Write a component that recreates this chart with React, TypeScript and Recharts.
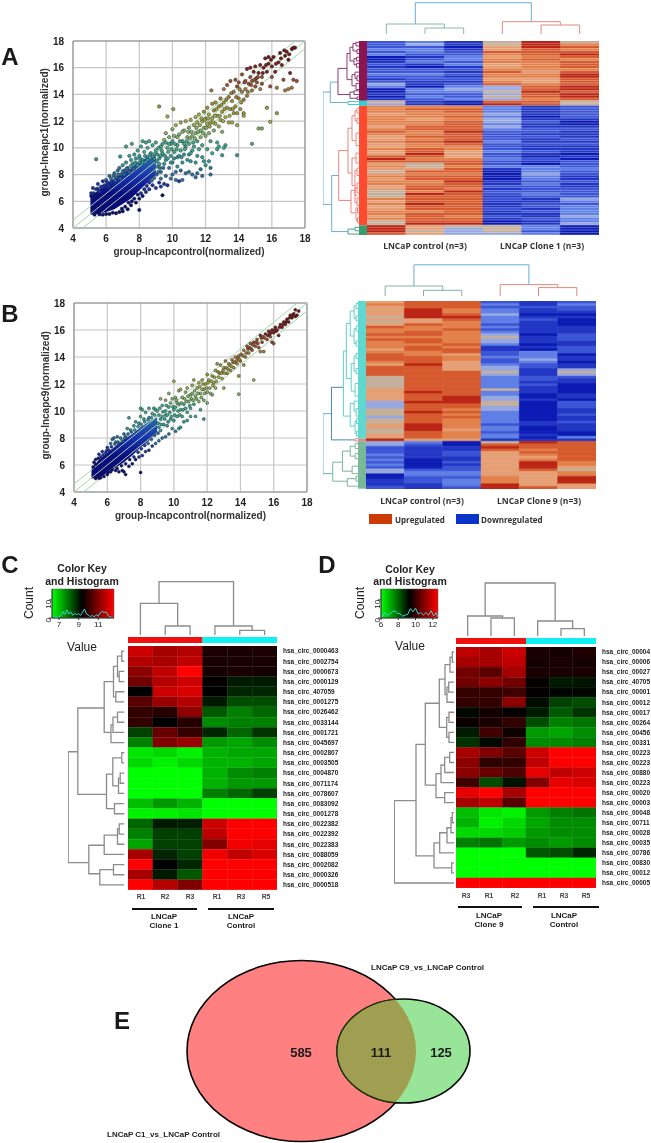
import React from 'react';
import {
  Area,
  Bar,
  BarChart,
  CartesianGrid,
  Cell,
  ComposedChart,
  Line,
  ReferenceArea,
  ReferenceLine,
  Scatter,
  ScatterChart,
  XAxis,
  YAxis,
} from 'recharts';

// ---- scatter panels: values, [control, clone]
const scatterA = [
  [5.1,6.6],[5.2,7],[5.4,6.9],[5.4,9.15],[5.5,7.3],[5.7,7.1],[5.8,7.5],[6,7.6],[6.1,7.3],[6.2,7.9],[6.3,7.7],[6.5,8.1],[6.6,7.8],[6.7,8.3],[6.8,8.5],[6.85,9.35],[6.9,8],[7,8.7],[7.1,8.3],[7.2,8.9],[7.3,8.5],[7.2,10.1],[7.4,9.4],[7.5,9.1],[7.55,10.3],[7.6,8.8],[7.7,9.5],[7.8,9.2],[7.9,9.8],[8,8.9],[8,9.4],[8.1,10.1],[8.2,9.1],[8.3,9.7],[8.2,10.5],[8.4,10.4],[8.5,9.3],[8.5,10],[8.6,10.5],[8.7,9.6],[8.8,10.2],[8.9,9.2],[9,10.4],[9,9.8],
  [5.8,5],[6.2,5.05],[6.6,5.1],[7,5.25],[7.3,5.4],[7.5,5.7],[7.8,5.9],[8,5.35],[8,6.2],[8.2,6.4],[8.4,6.7],[8.6,6.9],[8.8,7.2],[9,7],[9.2,7.4],[9.3,7.7],[9.4,6.45],[9.3,7.1],[9.5,7.3],[9.6,7.9],[9.7,7.2],[9.9,7.7],[10,8],[10.2,7.6],[10.4,7.5],[10.6,7.6],[10.8,8.1],[10.5,8.3],[10.3,8.6],[11,8.2],[11.2,8],[11.5,8.1],[11.4,7.8],[11.8,7.9],[12.3,8],[12.3,8.5],[12,8.7],[11.7,8.4],[11.4,8.9],[11.9,9],[12.2,9],[11.5,9.4],[11.1,9],[11,9.5],[12.1,9.9],[11.8,9.3],[12.4,9.6],[12.7,9.9],[13,9.45],[13.1,10],[13.2,10.2],[12.8,10.1],[13.9,9.45],[14.8,10.3],
  [9.1,8.6],[9.2,9.2],[9.3,10.1],[9.3,8.2],[9.4,9.6],[9.5,10.6],[9.5,8.8],[9.6,9.1],[9.6,11.1],[9.7,10],[9.8,8.5],[9.8,10.8],[9.9,9.4],[9.9,10.3],[10,11.4],[10,8.9],[10.1,9.7],[10.1,10.9],[10.2,8.2],[10.2,11.7],[10.3,10.2],[10.3,9.3],[10.4,11],[10.5,9.8],[10.5,11.9],[10.6,10.5],[10.6,8.9],[10.7,11.3],[10.7,9.5],[10.8,10.1],[10.8,12],[10.9,10.8],[10.9,9.1],[11,11.5],[11,10.3],[11.1,12.1],[11.2,9.8],[11.2,10.9],[11.3,11.7],[11.3,10.1],[11.4,12.3],[11.4,11.1],[11.5,10.5],[11.5,11.9],[11.6,9.9],[11.6,12.5],[11.7,11.3],[11.7,10.8],[11.8,12],[11.8,10.2],[11.9,12.7],[11.9,11.5],[12,12.2],[12,10.9],[12.1,11.8],[12.1,13],[12.2,11.1],[12.2,12.5],[12.3,10.5],[12.3,11.9],[12.35,14.3],[12.4,13.3],[12.4,12.2],[12.5,11.3],[12.5,12.8],[12.6,11.8],[12.6,13.4],[12.7,12.4],[12.7,10.4],[12.8,13.1],[12.8,11.6],[12.9,12.1],[12.9,13.7],[13,12.7],[13,11.2],[13.1,13.4],[13.1,14.4],[13.2,12.3],[13.3,13],[13.3,14.7],[13.4,11.9],[13.4,13.8],[13.5,12.9],[13.5,15],[13.6,13.5],[13.6,11.9],[13.7,14.2],[13.7,12.6],[13.8,13.1],[13.8,15.1],[13.9,14.6],[13.9,11.7],[13.9,12.6],[14,13.7],[14,14.9],[14.1,12.9],[14.2,14.2],[14.2,15.5],[14.3,13.6],[14.3,12.4],[14.3,12.6],[14.4,15],[14.4,14.4],[14.5,15.9],[14.5,13.9],[14.6,14.8],[14.7,15.3],[14.7,16],[14.8,14.3],[14.8,15],[14.9,15.7],[15,14.6],[15,16.1],[15.05,15.2],[15.1,14.9],[15.2,15.6],[15.3,14.4],[15.3,16.2],[15.4,15.3],[15.4,14.8],[15.5,16],[15.6,16.7],[15.7,13],[15.7,15.7],[15.8,16.3],[15.8,16.8],[15.9,11.95],[15.9,14.6],[16,16.1],[16,15.3],[16.1,16.8],[16.2,15.7],[16.3,12.6],[16.3,14.5],[16.4,16.4],[16.5,17.1],[16.6,16.2],[16.7,15.1],[16.8,16.9],[16.8,14.3],[16.9,17.2],[17,16.6],[17,14.4],[17.1,15.6],[17.2,14.5],[17.2,17.4],[17.3,17.5],[17.3,15.1],[17.5,15],[17.4,17.5],
  [15.2,11.45],[15.4,11.45],[9.2,13.1],[9.7,12.35],[10.05,12.9],
];
const scatterAEdge = [
  [5.1,6.4],[5.25,6.6],[5.35,6.5],[5.5,6.95],[5.6,6.75],[5.75,7.05],[5.9,7.2],[6.05,7.45],[6.15,7.1],[6.3,7.45],[6.45,7.9],[6.55,7.55],[6.75,8],[6.85,7.7],[7,8.25],[7.1,8],[7.25,8.45],[7.4,8.2],[7.5,8.65],[7.65,8.4],[7.75,8.9],[7.9,8.7],[8.05,9.2],[8.2,8.9],[8.35,9.4],[8.5,9.1],[8.65,9.5],[8.8,9.35],[8.95,9.55],
  [5.3,5],[5.6,5.02],[6,5.05],[6.4,5.15],[6.8,5.2],[6.95,5.45],[7.15,5.6],[7.35,5.9],[7.55,6],[7.7,6.2],[7.9,6.5],[8.1,6.6],[8.3,6.9],[8.45,7.15],[8.6,7.4],[8.75,7.55],[8.9,7.75],[9.05,8],[9.15,8.2],[9.25,8.5],
  [9.05,9],[9.1,9.5],[9.15,10],[9.2,8.8],[9.3,9.4],[9.35,9.8],[9.4,10.3],[9.45,8.5],[9.55,9.4],[9.6,10.4],[9.7,9.2],[9.75,9.7],[9.8,10.3],[9.9,8.9],[9.95,9.9],[10,10.5],[10.1,9.2],[10.15,10.3],[10.25,9.9],[10.3,10.8],[10.4,9.4],[10.45,10.5],[10.55,9.3],[10.6,11.2],[10.7,10.3],[10.75,9.9],[10.85,10.5],[10.95,11.2],[11.05,10.7],[11.1,9.6],[11.15,11.2],[11.25,10.4],[11.35,10.7],[11.45,11.5],[11.55,11.2],[11.65,11.7],[11.75,12.2],[11.85,11.1],[11.95,12.1],[12.05,11.5],[12.15,12.2],[12.25,11.6],[12.45,11.9],[12.55,12.4],[12.65,12.9],[12.85,12.4],[12.95,13.2],[13.05,12],[13.15,12.9],[13.25,13.6],[13.45,12.4],[13.55,14.1],[13.65,12.9],[13.85,13.8],[14.05,14.4],[14.15,13.4],[14.35,14.9],[14.55,14.2],[14.75,14.7],[14.95,15.1],[15.15,15.3],[15.45,15.6],[15.65,16.2],[15.95,16.6],[16.25,16.3],[16.55,16.7],[16.75,17.3],[17.05,17],
];

const scatterB = [
  [5.2,6.2],[5.3,6.4],[5.5,6.8],[5.7,7],[5.9,6.9],[6,7.3],[6.2,7.6],[6.3,7.9],[6.4,8],[6.5,7.7],[6.6,8.1],[6.7,7.5],[6.9,7.8],[7,8.3],[7.1,8.1],[7.2,8.7],[7.3,9.5],[7.4,8.6],[7.6,8.9],[7.7,9.2],[7.9,9.1],[8,9.6],[8,10.2],[8.2,9.4],[8.1,10.1],[8.3,9.9],[8.5,10.2],[8.5,9.5],[8.8,10.2],[8.7,9.8],[8.9,10.1],[9,10],
  [5.6,5.05],[6,5.3],[6.2,5.5],[6.5,5.6],[6.7,5.5],[6.9,5.6],[7,5.5],[7.1,5.3],[7.3,5.9],[7.5,6.1],[7.7,6.4],[7.9,6.6],[8,5.45],[8.1,6.7],[8.3,7],[8.5,7.1],[8.7,7.4],[8.9,7.6],[9.1,7.8],[9.3,8],[9.5,8.1],[9.7,8.3],[9.9,8.7],[10.1,8.5],[10.3,8.7],[10.4,8.8],[10.6,9.2],[10.8,9.3],[11,9.6],[11.3,9.6],[11.6,10.1],[11.8,9.4],[12,10.6],[12.3,11.2],
  [9.1,8.8],[9.2,9.4],[9.2,10.9],[9.3,10.4],[9.4,9],[9.5,9.7],[9.5,10.8],[9.6,8.9],[9.7,10.3],[9.7,11.3],[9.8,9.4],[9.9,10.9],[10,9.3],[10,10.1],[10,12.2],[10.1,11],[10.2,9.6],[10.2,10.6],[10.3,11.5],[10.4,10.1],[10.4,11.6],[10.5,9.6],[10.5,11],[10.6,10.5],[10.7,11.4],[10.8,9.9],[10.8,11.7],[10.9,10.7],[11,11.2],[11,10.2],[11.1,11.9],[11.2,10.5],[11.2,12.3],[11.3,11.1],[11.4,11.7],[11.5,10.7],[11.5,12.1],[11.6,11.3],[11.7,12.3],[11.8,11.6],[11.8,10.8],[11.9,12],[12,11.4],[12,12.7],[12.1,12.3],[12.2,11.3],[12.3,12.6],[12.4,12.1],[12.5,13],[12.5,11.7],[12.6,13.5],[12.7,12.5],[12.8,13.4],[12.9,12.4],[13,13.2],[13,11.7],[13.1,13.7],[13.2,12.8],[13.3,13.5],[13.4,13],[13.5,13.8],[13.6,13.2],[13.7,14],[13.8,13.5],[13.9,14.1],[13.9,12.6],[13.9,11.25],[14,13.7],[14.2,14.5],[14.2,13.4],[14.3,14],[14.4,14.8],[14.5,14.3],[14.6,15],[14.7,14.5],[14.8,12.3],[14.8,15.1],[14.9,14.8],[15,15.3],[15.1,14.7],[15.2,14.4],[15.2,15.6],[15.3,15.1],[15.4,14.4],[15.5,15.7],[15.6,15.3],[15.7,15.9],[15.8,15.5],[15.9,15.1],[15.9,16],[16,15],[16,15.8],[16.1,16.2],[16.2,16],[16.3,15.6],[16.4,16.4],[16.5,16.2],[16.6,16.6],[16.7,16.4],[16.8,16.8],[16.9,16.6],[17,17.1],[17.1,16.9],[17.2,17.2],[17.3,17.5],[17.3,17],[17.5,17.4],[17.4,17.1],
];
const scatterBEdge = [
  [5.15,5.85],[5.3,6.05],[5.45,6.5],[5.6,6.6],[5.75,6.75],[5.95,7.05],[6.1,7.1],[6.25,7.35],[6.45,7.55],[6.65,7.7],[6.8,8],[7.05,8],[7.25,8.3],[7.45,8.45],[7.65,8.6],[7.85,8.85],[8.05,9],[8.25,9.2],[8.45,9.35],[8.65,9.5],[8.85,9.7],
  [5.3,5],[5.5,5.02],[5.8,5.15],[6.05,5.45],[6.3,5.65],[6.6,5.75],[6.85,5.95],[7.1,6.1],[7.35,6.4],[7.6,6.6],[7.85,6.95],[8.05,7.2],[8.25,7.45],[8.45,7.6],[8.65,7.9],[8.85,8.2],[9.05,8.35],[9.2,8.55],
  [9.05,9.1],[9.1,9.7],[9.15,10.2],[9.25,9],[9.3,9.6],[9.35,9.95],[9.45,9.4],[9.5,10],[9.55,10.4],[9.6,9.7],[9.65,9.2],[9.75,9.9],[9.8,10.6],[9.85,9.6],[9.95,10.3],[10.05,9.7],[10.1,10.3],[10.15,10.8],[10.25,10],[10.3,10.5],[10.35,9.7],[10.45,10.6],[10.55,10.1],[10.65,10.9],[10.7,10.2],[10.75,10.7],[10.85,11.1],[10.95,10.4],[11.05,10.9],[11.1,11.3],[11.15,10.8],[11.25,11.5],[11.35,10.9],[11.45,11.3],[11.55,11.8],[11.65,11],[11.7,11.6],[11.75,12],[11.85,11.3],[11.95,11.7],[12.05,12.1],[12.15,11.7],[12.25,12.2],[12.35,11.9],[12.45,12.5],[12.55,12.2],[12.65,12.9],[12.75,12.8],[12.85,12.8],[12.95,13],[13.05,12.8],[13.15,13.2],[13.25,13.1],[13.35,13.4],[13.45,13.3],[13.55,13.6],[13.65,13.6],[13.75,13.7],[13.85,13.9],[13.95,13.8],[14.05,14.2],[14.15,14.1],[14.35,14.3],[14.45,14.6],[14.55,14.7],[14.65,14.6],[14.75,14.9],[14.95,15.1],[15.05,15],[15.25,15.4],[15.35,15.5],[15.45,15.4],[15.65,15.6],[15.75,15.7],[15.85,15.8],[16.05,16],[16.15,15.9],[16.35,16.2],[16.55,16.4],[16.75,16.6],[16.95,16.9],[17.15,17.1],
];

// dense core of each cloud, drawn as a low/high envelope
const coreA = [
  { x: 5.05, core: [5, 6.3] }, { x: 5.5, core: [5.05, 6.8] }, { x: 6, core: [5.2, 7.3] }, { x: 6.5, core: [5.4, 7.7] },
  { x: 7, core: [5.8, 8.1] }, { x: 7.5, core: [6.2, 8.5] }, { x: 8, core: [6.8, 9] }, { x: 8.5, core: [7.4, 9.3] }, { x: 9, core: [8, 9.4] },
];
const coreB = [
  { x: 5.05, core: [5, 5.7] }, { x: 5.5, core: [5.02, 6.4] }, { x: 6, core: [5.4, 6.9] }, { x: 6.5, core: [5.8, 7.4] },
  { x: 7, core: [6.2, 7.9] }, { x: 7.5, core: [6.7, 8.3] }, { x: 8, core: [7.3, 8.8] }, { x: 8.5, core: [7.8, 9.2] }, { x: 9, core: [8.4, 9.6] },
];

const axisTicks = [4, 6, 8, 10, 12, 14, 16, 18];
const foldBand = 0.58;

// ---- blue/orange heatmaps, one list per sample, level 0 (down) to 9 (up)
const aCtrl1 = [2,2,2,3,2,3,0,0,1,2,1,2,2,3,2,1,2,4,3,0,0,1,0,1,5,4, 7,7,7,6,7,7,7,7,6,7,8,7,6,6,7,6,6,7,6,6,8,9,8,6,7,6,5,6,7,6,7,7,6,6,5,5,5,7,6,7,6,6,7,7,6,7,5,5, 9,9,9,8];
const aCtrl2 = [3,4,2,3,3,2,1,2,3,1,0,2,2,3,2,2,1,1,0,3,3,2,3,2,1,1, 7,8,7,7,7,6,7,7,8,8,7,7,8,7,8,7,7,8,8,9,8,7,8,5,5,6,8,7,8,8,7,7,8,8,7,9,8,8,8,9,8,8,7,8,8,8,8,9, 6,6,5,6];
const aCtrl3 = [1,1,0,1,2,2,3,3,2,3,1,2,1,2,1,2,1,2,3,4,3,2,2,3,0,0, 7,8,8,7,8,7,8,8,8,8,9,8,8,8,9,8,7,7,6,6,6,7,8,8,7,8,8,7,8,8,9,8,8,7,9,8,8,8,8,8,8,8,8,8,7,8,8,9, 5,4,4,4];
const aClone1 = [5,5,6,6,8,7,6,7,7,6,6,7,8,7,7,6,7,8,4,4,5,4,5,4,8,9, 3,3,3,4,3,4,4,3,4,3,2,2,2,2,3,2,2,2,3,2,2,3,2,2,3,1,0,0,0,0,1,1,2,1,2,2,1,2,1,1,1,2,1,1,2,1,0,0, 5,5,5,4];
const aClone2 = [9,9,9,8,8,8,7,8,7,7,7,7,6,7,7,6,6,7,8,8,9,8,8,7,8,8, 1,1,1,1,0,1,2,1,1,2,2,1,2,1,1,2,1,1,2,1,0,2,1,0,3,3,3,4,3,3,2,3,2,2,2,3,2,1,1,2,2,1,2,1,1,2,1,1, 3,3,2,3];
const aClone3 = [5,7,8,7,8,9,8,7,8,8,8,7,8,9,9,8,8,8,9,9,8,9,9,8,5,5, 2,2,2,2,2,1,0,0,1,2,1,1,1,2,1,2,1,1,1,0,1,0,2,2,2,3,2,2,1,1,2,1,1,2,2,2,2,4,3,2,3,3,3,3,4,3,3,4, 0,0,0,0];
const aClusters = [24, 2, 48, 4];

const bCtrl1 = [6,7,6,6,6,6,5,6,5,6,8,7,7,8,7,8,7,7,7,6,7,8,8,8,7,6,8,8,8,8,5,5,5,5,5,6,6,6,6,6,4,4,4,5,5,5,4,5,5,6,6,5,5,6,6, 9, 4,4,2,2,2,3,2,3,2,3,2,4,4,0,0,1,1,1,2];
const bCtrl2 = [8,8,8,9,9,9,9,6,6,8,7,7,8,8,7,8,8,7,8,8,7,7,8,8,8,9,8,8,8,8,8,8,8,8,8,8,9,8,8,8,9,8,8,8,9,8,8,8,8,9,9,9,8,8,8, 6, 3,2,1,1,1,1,1,0,0,0,0,2,3,3,2,2,2,1,1];
const bCtrl3 = [8,8,8,7,7,8,9,8,7,7,7,8,7,7,7,7,7,8,7,8,8,6,7,7,6,6,6,6,8,8,8,8,8,8,8,8,8,8,9,9,9,8,8,7,8,7,8,7,7,7,7,6,7,7,7, 6, 0,0,1,1,2,2,1,1,2,1,2,2,3,3,2,3,3,3,2];
const bClone1 = [2,3,2,3,3,4,3,3,3,2,3,2,3,4,5,4,4,3,1,1,2,2,3,2,2,3,4,4,5,4,3,3,3,3,3,5,3,3,4,4,5,5,4,4,3,3,3,3,3,2,3,3,2,3,3, 1, 5,8,9,8,6,6,6,6,6,6,6,6,6,6,7,7,7,9,9];
const bClone2 = [1,1,2,1,1,0,1,2,1,1,1,1,1,0,1,1,1,0,1,0,3,3,3,4,3,2,2,1,1,1,2,2,1,2,1,1,1,0,0,1,0,0,0,0,0,0,0,0,1,1,0,0,0,1,0, 1, 9,8,8,7,8,7,6,7,9,9,9,8,6,6,6,6,6,6,8];
const bClone3 = [2,3,2,2,1,0,1,0,0,0,1,1,1,2,2,2,1,1,2,2,2,0,1,1,0,1,1,4,5,4,2,1,1,0,0,0,0,1,1,0,2,2,2,1,1,2,1,1,2,1,1,1,0,0,3, 1, 8,8,8,8,8,8,8,8,7,7,6,5,7,7,9,9,9,6,6];
const bClusters = [55, 1, 19];

const levelColors = ['#0c1cb4', '#2337c4', '#3c56d6', '#6080e6', '#98a8e0', '#c6b09c', '#e6a076', '#e2824c', '#d65c30', '#bc2616'];

// ---- green/red heatmaps, -10 (green) to 10 (red)
const circC = ['0000463','0002754','0000673','0000129','407059','0001275','0026462','0033144','0001721','0045697','0002807','0003505','0004870','0071174','0078607','0083092','0001278','0022382','0022392','0022383','0088059','0002082','0000326','0000518'];
const heatC = [
  [8,6.5,7,1,1,1],[7,6.5,7.5,1,1,1],[5.5,7.5,10,0.8,1,0.8],[4.5,7,8,0.2,-1,-1],[0,8,8.5,0,-1.5,-1.5],[3.5,6,7,-1,-3,-3],
  [2,1.5,5.5,-3.5,-5,-4],[2,0,1.5,-5.5,-5,-5],[-2.5,4,2,-1.5,-4,-2],[-5,5,6,-6,-6.5,-5.5],[-9,-8.5,-9.5,-7,-6.5,-6.5],[-8.5,-9.5,-8.5,-7,-7,-6.5],
  [-10,-10,-10,-7,-5.5,-5],[-10,-10,-10,-7,-6,-6],[-10,-10,-10,-5,-4,-2.5],[-7.5,-6,-7,-10,-10,-10],[-9.5,-9.5,-9,-10,-10,-10],[-4,-1,-1.2,8,10,10],
  [-5,-2.5,-2.5,7.5,10,10],[-6.5,-2.5,-2.5,5,9.5,9],[6.5,-1.5,-2.5,9.5,7.5,8.5],[10,0,-1.5,10,10,10],[6.5,-1,-3.5,10,10,10],[10,7,5,10,10,10],
];
const circD = ['00004','00006','00027','40705','00001','00012','00017','00264','00456','00331','00223','00223','00880','00223','00020','00003','00048','00711','00028','00035','00786','00830','00012','00005'];
const heatD = [
  [7.5,6.5,8,1,0.8,1.2],[6.5,6.5,7.5,0.8,1,0.8],[4.5,3.5,6.5,1,1,1],[4.5,5.5,4.5,0.2,-1,-0.8],[2,2,2.5,0.2,-0.2,-0.2],[2,2,5.5,-0.5,-2.5,-3],
  [-0.3,0.8,0.2,-1,-3.5,-2],[0.5,1,2,-3,-5,-4.5],[-1,2.5,0.5,-6,-6.5,-5.5],[-2,-0.3,1.8,-5.5,-5.5,-5],[6.5,5,3.5,8,10,10],[5.5,1.8,2,7.5,10,10],
  [5.5,4,3,9,7.5,8],[2.5,-3,-0.7,5,9,8.5],[9,10,6.5,10,10,10],[6.5,7.5,3.5,10,10,10],[-7.5,-9,-9.5,-6,-5,-4.5],[-7,-9.5,-8.5,-6.5,-5.5,-5.5],
  [-8.5,-8.5,-8,-6,-5.5,-5.5],[-5,-4.5,-6,-5.5,-6,-5.5],[-10,-10,-10,-3.5,-3,-1.5],[-10,-10,-10,-10,-10,-10],[-10,-10,-10,-10,-10,-10],[10,10,10,10,10,10],
];
const samplesC = ['R1', 'R2', 'R3', 'R1', 'R3', 'R5'];
const samplesD = ['R3', 'R1', 'R2', 'R1', 'R3', 'R5'];

// colour key histograms
const histC = [
  [6.4,0.3],[6.7,0.6],[7,0.4],[7.2,1.5],[7.4,3.5],[7.6,2],[7.8,4.5],[8,2.2],[8.2,3.4],[8.4,1.5],[8.6,2.6],[8.8,1.8],[9,2.4],[9.2,1.4],[9.4,3.2],[9.6,5],[9.8,2.2],[10,1.6],[10.2,0.8],[10.4,1.4],[10.6,0.6],[10.8,1.8],[11,1],[11.2,3],[11.4,3.6],[11.6,3],[11.8,3.4],[12,1.4],[12.2,0.6],[12.5,0.2],
];
const histD = [
  [6.1,0.3],[6.4,3],[6.7,1.6],[7,2],[7.3,3.6],[7.6,4],[7.9,2.6],[8.2,2.4],[8.5,1],[8.8,1.6],[9.1,2],[9.4,5.2],[9.7,3.4],[10,5.4],[10.3,2.2],[10.6,3],[10.9,1.6],[11.2,3],[11.5,1.6],[11.8,4],[12.1,1.2],[12.4,3],[12.6,0.4],
];

// ---- dendrograms: each merge is [height, pos a, child height a, pos b, child height b]
const colTreeA = [[31.3, 1.25, 10, 4.25, 12.3]];
const colTreeAL = [[10, 0.5, 0, 2, 6], [6, 1.5, 0, 2.5, 0]];
const colTreeAR = [[12.3, 3.5, 0, 5, 9], [9, 4.5, 0, 5.5, 0]];
const colTreeB = [[31.2, 1.25, 10, 4.25, 11.4]];
const colTreeBL = [[10, 0.5, 0, 2, 5.7], [5.7, 1.5, 0, 2.5, 0]];
const colTreeBR = [[11.4, 3.5, 0, 5, 8.4], [8.4, 4.5, 0, 5.5, 0]];
const colTreeC = [[53.3, 1.25, 31.7, 4.25, 9], [31.7, 0.5, 0, 2, 9], [9, 1.5, 0, 2.5, 0], [9, 3.5, 0, 5, 4.7], [4.7, 4.5, 0, 5.5, 0]];
const colTreeD = [[53, 1.25, 20, 4.25, 15], [20, 0.5, 0, 2, 18], [18, 1.5, 0, 2.5, 0], [15, 3.5, 0, 5, 7.4], [7.4, 4.5, 0, 5.5, 0]];

const rowTreeARoot = [[36, 20.5, 28.7, 65.6, 27.3], [28.7, 16.5, 21, 24.7, 11], [27.3, 54, 20.3, 76.5, 11]];
const rowTreeAPurple = [
  [21, 11, 12, 21.5, 9], [12, 5, 9, 15.5, 7], [9, 2.5, 6, 8, 5], [6, 1, 3, 4, 2], [3, 0.5, 0, 2, 0], [2, 3.5, 0, 5, 0],
  [5, 7, 2.5, 9.5, 2.5], [2.5, 6.5, 0, 8, 0], [2.5, 9, 0, 10.5, 0], [7, 13.5, 4, 18, 3], [4, 12.5, 0, 15, 2], [2, 14, 0, 16, 0],
  [3, 17, 0, 19.5, 0], [9, 20.5, 5, 23, 2], [5, 20, 0, 21.5, 0], [2, 22.5, 0, 23.5, 0],
];
const rowTreeACyan = [[11, 24.3, 0, 25.5, 0]];
const rowTreeARed = [
  [20.3, 44, 11, 64, 8], [11, 35, 7, 53, 7], [7, 30, 4, 40, 3], [4, 28, 2, 32, 2], [2, 27, 0, 29, 0], [2, 31, 0, 33, 0], [3, 37, 0, 42, 0],
  [7, 47, 3, 58, 4], [3, 45, 0, 49, 0], [4, 52, 2, 62, 2], [2, 51, 0, 54, 0], [2, 57, 0, 61, 0], [8, 60, 4, 69, 3], [4, 59, 1.5, 65, 2],
  [2, 63, 0, 66, 0], [3, 67, 1.5, 72, 1.5], [1.5, 67, 0, 69, 0], [1.5, 71, 0, 73, 0],
];
const rowTreeAGreen = [[11, 75.5, 4, 77.5, 0], [4, 74.8, 0, 76.2, 0]];

const rowTreeBRoot = [[36, 45, 27.3, 69, 26]];
const rowTreeBBlue = [[27.3, 34.5, 15, 55.5, 3]];
const rowTreeBTeal = [
  [15, 20, 12, 46, 8], [12, 9, 8, 31, 7], [8, 4, 4, 14, 4], [4, 2, 2, 7, 2], [2, 1, 0, 3, 0], [2, 6, 0, 8, 0], [4, 11, 2, 17, 2], [2, 10, 0, 12, 0], [2, 16, 0, 18, 0],
  [7, 25, 4, 36, 3], [4, 22, 2, 28, 2], [2, 21, 0, 23, 0], [2, 27, 0, 29, 0], [3, 33, 0, 38, 0],
  [8, 41, 4, 50, 3], [4, 40, 0, 44, 2], [2, 43, 0, 46, 0], [3, 48, 1.5, 53, 1.5], [1.5, 47, 0, 49, 0], [1.5, 52, 0, 54, 0],
];
const rowTreeBPink = [[3, 55, 0, 56, 0]];
const rowTreeBGreen = [
  [26, 64.4, 16, 72, 11], [16, 60, 8, 68, 6], [8, 58, 3, 62, 3], [3, 57, 0, 59, 0], [3, 61, 0, 63, 0], [6, 66, 0, 69, 0], [11, 71, 2, 74, 0], [2, 70, 0, 72, 0],
];

const rowTreeC = [
  [56.3, 10.4, 46.7, 21.3, 35.7], [46.7, 6.1, 20.3, 14.6, 18], [20.3, 3.5, 11, 8.5, 13.5], [11, 2, 7, 5, 8.7], [7, 1, 2.7, 3, 5.3], [2.7, 0.5, 0, 1.5, 0],
  [5.3, 2.5, 0, 3.5, 0], [8.7, 4.5, 0, 5.5, 0], [13.5, 7.75, 11.5, 9.5, 0], [11.5, 7, 7, 8.5, 0], [7, 6.5, 0, 7.5, 0], [18, 12.6, 11.7, 16, 10],
  [11.7, 11, 2.7, 13.75, 6], [2.7, 10.5, 0, 11.5, 0], [6, 13, 4.3, 14.5, 0], [4.3, 12.5, 0, 13.5, 0], [10, 15.5, 0, 16.5, 0], [35.7, 19.6, 20.3, 22.4, 24.7],
  [20.3, 18.6, 7, 20.5, 0], [7, 18, 5.3, 19.5, 0], [5.3, 17.5, 0, 18.5, 0], [24.7, 22, 11, 23.5, 0], [11, 21.5, 0, 22.5, 0],
];
const rowTreeD = [
  [59.7, 15.3, 38, 23.5, 0], [38, 9.7, 28.7, 20.8, 20], [28.7, 5.6, 14.7, 13.75, 18], [14.7, 3.2, 9, 8, 7.3], [9, 1.75, 4, 4.75, 7], [4, 1, 1.7, 2.5, 0], [1.7, 0.5, 0, 1.5, 0],
  [7, 4, 5.3, 5.5, 0], [5.3, 3.5, 0, 4.5, 0], [7.3, 7, 5, 9, 5], [5, 6.5, 0, 7.5, 0], [5, 8.5, 0, 9.5, 0], [18, 12.6, 13, 15, 9.3], [13, 11.75, 9.3, 13.5, 0],
  [9.3, 11, 4.3, 12.5, 0], [4.3, 10.5, 0, 11.5, 0], [9.3, 14.5, 0, 15.5, 0], [20, 19.5, 14.3, 22, 2.3], [14.3, 18.5, 7, 20.5, 0], [7, 18, 3, 19.5, 0],
  [3, 17, 1.7, 18.5, 0], [1.7, 16.5, 0, 17.5, 0], [2.3, 21.5, 0, 22.5, 0],
];

// ---- venn counts and circle extents
const vennCounts = [585, 111, 125];
const vennSets = [
  { x: 121.5, y: 96, rx: 114.5, ry: 90.5, fill: '#ff8080' },
  { x: 223.5, y: 96, rx: 66.5, ry: 52, fill: '#98e498' },
];

const FONT = 'Arial, "Liberation Sans", sans-serif';

function T({ x, y, size = 8, bold = true, color = '#1a1a1a', rot = 0, start = false, family = FONT, children }: any) {
  return (
    <div
      style={{
        position: 'absolute',
        left: x,
        top: y,
        fontFamily: family,
        fontSize: size,
        fontWeight: bold ? 700 : 400,
        color,
        whiteSpace: 'nowrap',
        lineHeight: 1,
        transform: `translate(${start ? '0' : '-50%'}, -50%) rotate(${rot}deg)`,
      }}
    >
      {children}
    </div>
  );
}

function Box({ left, top, children }: any) {
  return <div style={{ position: 'absolute', left, top }}>{children}</div>;
}

// y value sets the point colour, dark blue through green to dark red
const yStops: [number, string][] = [
  [6.5, '#0a0a7a'], [7.5, '#1a30b0'], [8.5, '#2a70a8'], [9.5, '#30a0a0'], [10.5, '#40b090'], [11.5, '#88b860'],
  [12.5, '#b0b040'], [13.5, '#a89a30'], [14.5, '#b07a30'], [15.5, '#a84a28'], [16.5, '#8a1a1a'],
];
const colorForY = (y: number) => {
  for (const [limit, color] of yStops) if (y <= limit) return color;
  return '#7a1010';
};

const Dot = (r: number) => (props: any) => (
  <circle cx={props.cx} cy={props.cy} r={r} fill={colorForY(props.payload.y)} stroke="#1c2a2a" strokeWidth={0.5} />
);

function ScatterPanel({ id, points, core, xName, yName, plotTop, plotLeft, plotWidth, plotHeight, dot }: any) {
  const data = points.map(([x, y]: number[]) => ({ x, y }));
  const diag = (off: number) => [
    { x: off < 0 ? 4 - off : 4, y: off > 0 ? 4 + off : 4 },
    { x: off > 0 ? 18 - off : 18, y: off < 0 ? 18 + off : 18 },
  ];
  return (
    <Box left={0} top={plotTop - 10}>
      <ComposedChart
        width={plotLeft + plotWidth + 14}
        height={plotHeight + 46}
        data={core}
        margin={{ top: 10, right: 14, bottom: 0, left: plotLeft - 40 }}
      >
        <defs>
          <linearGradient id={`core-${id}`} x1="0" y1="0" x2="0" y2="1">
            <stop offset="0%" stopColor="#2a70a8" />
            <stop offset="35%" stopColor="#1a30b0" />
            <stop offset="65%" stopColor="#0c0c80" />
            <stop offset="100%" stopColor="#0a0a70" />
          </linearGradient>
        </defs>
        <CartesianGrid stroke="#c6c6c6" strokeWidth={1.2} />
        <XAxis
          type="number"
          dataKey="x"
          domain={[4, 18]}
          ticks={axisTicks}
          height={36}
          interval={0}
          tickLine={false}
          axisLine={false}
          tick={{ fontSize: 10, fontWeight: 700, fill: '#222', fontFamily: FONT }}
          tickMargin={1}
          label={{ value: xName, position: 'insideBottom', offset: 9, style: { fontSize: 10, fontWeight: 700, fill: '#333', fontFamily: FONT } }}
        />
        <YAxis
          type="number"
          domain={[4, 18]}
          ticks={axisTicks}
          width={40}
          interval={0}
          tickLine={false}
          axisLine={false}
          tick={{ fontSize: 10, fontWeight: 700, fill: '#222', fontFamily: FONT }}
          tickMargin={3}
          label={{ value: yName, angle: -90, position: 'insideLeft', offset: 11, dy: 62, style: { fontSize: 10, fontWeight: 700, fill: '#333', fontFamily: FONT } }}
        />
        <ReferenceArea x1={4} x2={18} y1={4} y2={18} fill="none" stroke="#8a8a8a" strokeWidth={1} />
        <Area dataKey="core" stroke="none" fill={`url(#core-${id})`} fillOpacity={1} isAnimationActive={false} />
        <Scatter data={data} dataKey="y" shape={dot} isAnimationActive={false} />
        <ReferenceLine segment={diag(0)} stroke="#a0d8a4" strokeWidth={1} />
        <ReferenceLine segment={diag(foldBand)} stroke="#a0d8a4" strokeWidth={1} />
        <ReferenceLine segment={diag(-foldBand)} stroke="#a0d8a4" strokeWidth={1} />
      </ComposedChart>
    </Box>
  );
}

// heatmap: one stacked bar per row, every segment one sample wide
function Heat({ left, top, width, height, rows, colorOf, labels, labelWidth = 0 }: any) {
  const data = rows.map((values: number[], id: number) => ({ id, values }));
  const nCols = rows[0].length;
  return (
    <Box left={left} top={top}>
      <BarChart
        layout="vertical"
        width={width + labelWidth}
        height={height}
        data={data}
        barCategoryGap={0}
        margin={{ top: 0, right: 0, bottom: 0, left: 0 }}
      >
        <XAxis type="number" hide domain={[0, nCols]} allowDataOverflow />
        <YAxis
          type="category"
          dataKey="id"
          orientation="right"
          hide={!labels}
          width={labelWidth}
          interval={0}
          tickLine={false}
          axisLine={false}
          tickSize={0}
          tickMargin={6}
          tickFormatter={(i: number) => (labels ? labels[i] : '')}
          tick={{ fontSize: 6.5, fontWeight: 700, fill: '#222', fontFamily: FONT }}
        />
        {Array.from({ length: nCols }, (_, c) => (
          <Bar key={c} stackId="row" dataKey={() => 1} isAnimationActive={false}>
            {rows.map((values: number[], r: number) => {
              const fill = colorOf(values[c]);
              return <Cell key={r} fill={fill} stroke={fill} strokeWidth={0.4} />;
            })}
          </Bar>
        ))}
      </BarChart>
    </Box>
  );
}

const blueOrange = (v: number) => levelColors[v] ?? levelColors[5];
const greenRed = (v: number) => {
  const c = Math.round(Math.abs(v) * 25.5);
  return v >= 0 ? `rgb(${c},0,0)` : `rgb(0,${c},0)`;
};

// single stacked strip that marks the clusters next to a heatmap
function Strip({ left, top, width, height, sizes, colors, vertical }: any) {
  const total = sizes.reduce((a: number, b: number) => a + b, 0);
  const row = Object.fromEntries(sizes.map((s: number, i: number) => [`s${i}`, s]));
  return (
    <Box left={left} top={top}>
      <BarChart
        layout={vertical ? 'horizontal' : 'vertical'}
        width={width}
        height={height}
        data={[row]}
        barCategoryGap={0}
        margin={{ top: 0, right: 0, bottom: 0, left: 0 }}
      >
        {vertical ? <XAxis type="category" hide /> : <XAxis type="number" hide domain={[0, total]} />}
        {vertical ? <YAxis type="number" hide reversed domain={[0, total]} /> : <YAxis type="category" hide />}
        {sizes.map((_: number, i: number) => (
          <Bar key={i} stackId="s" dataKey={`s${i}`} fill={colors[i]} isAnimationActive={false} />
        ))}
      </BarChart>
    </Box>
  );
}

const NoDot = () => <g />;

// dendrogram, merges are drawn as three-sided brackets through the chart scales
function Tree({ left, top, width, height, groups, rowsAlongY, posMax, hMax }: any) {
  const bracket = ([h, a, ha, b, hb]: number[]) =>
    rowsAlongY
      ? [{ x: ha, y: a }, { x: h, y: a }, { x: h, y: b }, { x: hb, y: b }]
      : [{ x: a, y: ha }, { x: a, y: h }, { x: b, y: h }, { x: b, y: hb }];
  return (
    <Box left={left} top={top}>
      <ScatterChart width={width} height={height} margin={{ top: 0, right: 0, bottom: 0, left: 0 }}>
        <XAxis
          type="number"
          dataKey="x"
          hide
          allowDataOverflow
          reversed={rowsAlongY}
          domain={rowsAlongY ? [0, hMax] : [0, posMax]}
        />
        <YAxis
          type="number"
          dataKey="y"
          hide
          allowDataOverflow
          reversed={rowsAlongY}
          domain={rowsAlongY ? [0, posMax] : [0, hMax]}
        />
        {groups.flatMap((g: any, gi: number) =>
          g.merges.map((m: number[], mi: number) => (
            <Scatter
              key={`${gi}-${mi}`}
              data={bracket(m)}
              line={{ stroke: g.color, strokeWidth: g.width ?? 1 }}
              shape={NoDot}
              isAnimationActive={false}
            />
          ))
        )}
      </ScatterChart>
    </Box>
  );
}

function ColorKey({ id, left, top, width, ticks, domain, blackAt, hist }: any) {
  const data = hist.map(([x, count]: number[]) => ({ x, count }));
  const tickStyle = { fontSize: 8, fill: '#222', fontFamily: FONT };
  return (
    <Box left={left - 22} top={top - 4}>
      <ComposedChart width={width + 26} height={49} data={data} margin={{ top: 4, right: 4, bottom: 0, left: 0 }}>
        <defs>
          <linearGradient id={`key-${id}`} x1="0" y1="0" x2="1" y2="0">
            <stop offset="0%" stopColor="#00ff00" />
            <stop offset={`${blackAt}%`} stopColor="#000000" />
            <stop offset="100%" stopColor="#ff0000" />
          </linearGradient>
        </defs>
        <XAxis
          type="number"
          dataKey="x"
          domain={domain}
          ticks={ticks}
          interval={0}
          height={16}
          tickSize={2}
          tickMargin={1}
          stroke="#333"
          tick={tickStyle}
        />
        <YAxis type="number" domain={[0, 16]} ticks={[0, 10]} width={22} tickSize={3} tickMargin={1} stroke="#333" tick={{ ...tickStyle, angle: -90 }} />
        <ReferenceArea x1={domain[0]} x2={domain[1]} y1={0} y2={16} fill={`url(#key-${id})`} fillOpacity={1} stroke="#555" strokeWidth={0.5} />
        <Line dataKey="count" type="linear" stroke="#2fd8d8" strokeWidth={1} dot={false} isAnimationActive={false} />
      </ComposedChart>
    </Box>
  );
}

const VennShape = (props: any) => {
  const { cx, cy, payload } = props;
  return (
    <ellipse cx={cx} cy={cy} rx={payload.rx} ry={payload.ry} fill={payload.fill} stroke="#050505" strokeWidth={1.6} />
  );
};

const VennOverlap = (props: any) => {
  const { cx, cy, payload } = props;
  return (
    <ellipse
      cx={cx}
      cy={cy}
      rx={payload.rx}
      ry={payload.ry}
      fill="#a09e50"
      stroke="#1c3c0c"
      strokeWidth={1.2}
      clipPath="url(#venn-big)"
    />
  );
};

function Venn() {
  const [big, small] = vennSets;
  return (
    <Box left={180} top={955}>
      <ScatterChart width={300} height={188} margin={{ top: 0, right: 0, bottom: 0, left: 0 }}>
        <defs>
          <clipPath id="venn-big">
            <ellipse cx={big.x} cy={big.y} rx={big.rx} ry={big.ry} />
          </clipPath>
        </defs>
        <XAxis type="number" dataKey="x" hide domain={[0, 300]} />
        <YAxis type="number" dataKey="y" hide reversed domain={[0, 188]} />
        <Scatter data={[big]} shape={VennShape} isAnimationActive={false} />
        <Scatter data={[small]} shape={VennShape} isAnimationActive={false} />
        <Scatter data={[small]} shape={VennOverlap} isAnimationActive={false} />
      </ScatterChart>
    </Box>
  );
}

function HBar({ left, right, y }: any) {
  return <div style={{ position: 'absolute', left, top: y - 1, width: right - left, height: 2, background: '#111' }} />;
}

const rowsOf = (cols: number[][]) => cols[0].map((_, i) => cols.map((c) => c[i]));

export default function App() {
  const open = '"Open Sans", Arial, sans-serif';
  return (
    <div style={{ position: 'absolute', left: 0, top: 0, width: 651, height: 1143, overflow: 'hidden', background: '#fff', filter: 'blur(0.35px)' }}>
      {/* A */}
      <T x={10} y={57} size={24}>A</T>
      <ScatterPanel id="a" points={[...scatterA, ...scatterAEdge]} core={coreA} xName="group-lncapcontrol(normalized)" yName="group-lncapc1(normalized)" plotLeft={73} plotTop={41} plotWidth={232} plotHeight={187} dot={Dot(1.7)} />
      <Tree left={366.7} top={0} width={232} height={34} posMax={6} hMax={34} groups={[
        { color: '#6aaed6', merges: colTreeA },
        { color: '#88b8a8', merges: colTreeAL },
        { color: '#e08a7a', merges: colTreeAR },
      ]} />
      <Tree left={323} top={40.7} width={36} height={194.3} rowsAlongY posMax={78} hMax={36} groups={[
        { color: '#6aaed6', merges: rowTreeARoot },
        { color: '#8a3a70', merges: rowTreeAPurple },
        { color: '#3ad0d0', merges: rowTreeACyan },
        { color: '#e9857f', merges: rowTreeARed },
        { color: '#4fa080', merges: rowTreeAGreen },
      ]} />
      <Strip left={359} top={40.7} width={8} height={194.3} vertical sizes={aClusters} colors={['#8a1550', '#30d0d0', '#ff4a30', '#3a9a70']} />
      <Heat left={366.7} top={40.7} width={232} height={194.3} rows={rowsOf([aCtrl1, aCtrl2, aCtrl3, aClone1, aClone2, aClone3])} colorOf={blueOrange} />
      <T x={425} y={246} size={8.5} family={open} color="#333">LNCaP control (n=3)</T>
      <T x={542} y={246} size={8.5} family={open} color="#333">LNCaP Clone 1 (n=3)</T>

      {/* B */}
      <T x={10} y={314} size={24}>B</T>
      <ScatterPanel id="b" points={[...scatterB, ...scatterBEdge]} core={coreB} xName="group-lncapcontrol(normalized)" yName="group-lncapc9(normalized)" plotLeft={74} plotTop={303} plotWidth={233} plotHeight={189} dot={Dot(1.5)} />
      <Tree left={366} top={264} width={230} height={32} posMax={6} hMax={32} groups={[
        { color: '#6aaed6', merges: colTreeB },
        { color: '#88b0a8', merges: colTreeBL },
        { color: '#e08a7a', merges: colTreeBR },
      ]} />
      <Tree left={323} top={301.3} width={35} height={187.7} rowsAlongY posMax={75} hMax={36} groups={[
        { color: '#6aaed6', merges: rowTreeBRoot },
        { color: '#4a86b0', merges: rowTreeBBlue },
        { color: '#5fd0c8', merges: rowTreeBTeal },
        { color: '#e9857f', merges: rowTreeBPink },
        { color: '#7ab5a0', merges: rowTreeBGreen },
      ]} />
      <Strip left={358} top={301.3} width={8} height={187.7} vertical sizes={bClusters} colors={['#60d8d0', '#e98a80', '#7ab89a']} />
      <Heat left={366} top={301.3} width={230} height={187.7} rows={rowsOf([bCtrl1, bCtrl2, bCtrl3, bClone1, bClone2, bClone3])} colorOf={blueOrange} />
      <T x={422} y={501} size={8.5} family={open} color="#333">LNCaP control (n=3)</T>
      <T x={539} y={501} size={8.5} family={open} color="#333">LNCaP Clone 9 (n=3)</T>
      <div style={{ position: 'absolute', left: 369, top: 514, width: 23, height: 10, background: '#cc3a06' }} />
      <T x={395} y={520} size={8} family={open} color="#333" start>Upregulated</T>
      <div style={{ position: 'absolute', left: 456, top: 514, width: 23, height: 10, background: '#0a34c8' }} />
      <T x={481} y={520} size={8} family={open} color="#333" start>Downregulated</T>

      {/* C */}
      <T x={10} y={565} size={24}>C</T>
      <T x={82} y={568} size={10.5} color="#222">Color Key</T>
      <T x={82} y={581} size={10.5} color="#222">and Histogram</T>
      <T x={29} y={603} size={12} bold={false} rot={-90} color="#222">Count</T>
      <T x={82} y={647} size={12} bold={false} color="#222">Value</T>
      <ColorKey id="c" left={52} top={589} width={62} ticks={[7, 9, 11]} domain={[6.29, 12.6]} blackAt={48} hist={histC} />
      <Tree left={128} top={581} width={149} height={54} posMax={6} hMax={54} groups={[{ color: '#8c8c8c', width: 1.3, merges: colTreeC }]} />
      <Strip left={128} top={637} width={149} height={6} sizes={[3, 3]} colors={['#f01010', '#10f0f0']} />
      <Tree left={68} top={646} width={56.5} height={244} rowsAlongY posMax={24} hMax={56.5} groups={[{ color: '#8c8c8c', width: 1.3, merges: rowTreeC }]} />
      <Heat left={128} top={646} width={149} height={244} rows={heatC} colorOf={greenRed} labels={circC.map((c) => `hsa_circ_${c}`)} labelWidth={70} />
      {samplesC.map((s, i) => (
        <T key={i} x={[141, 165, 190, 217, 241, 266][i]} y={897} size={6.8} color="#444">{s}</T>
      ))}
      <HBar left={132} right={197} y={909} />
      <HBar left={208} right={274} y={909} />
      <T x={164} y={917} size={8}>LNCaP</T>
      <T x={164} y={926} size={8}>Clone 1</T>
      <T x={241} y={917} size={8}>LNCaP</T>
      <T x={241} y={926} size={8}>Control</T>

      {/* D */}
      <T x={327} y={565} size={24}>D</T>
      <T x={410} y={569} size={10.5} color="#222">Color Key</T>
      <T x={410} y={581} size={10.5} color="#222">and Histogram</T>
      <T x={360} y={603} size={12} bold={false} rot={-90} color="#222">Count</T>
      <T x={410} y={646} size={12} bold={false} color="#222">Value</T>
      <ColorKey id="d" left={381} top={589} width={57} ticks={[6, 8, 10, 12]} domain={[6, 12.6]} blackAt={50} hist={histD} />
      <Tree left={456} top={582} width={140} height={54} posMax={6} hMax={54} groups={[{ color: '#8c8c8c', width: 1.3, merges: colTreeD }]} />
      <Strip left={456} top={638} width={140} height={6} sizes={[3, 3]} colors={['#f01010', '#10f0f0']} />
      <Tree left={393.5} top={647} width={60} height={241} rowsAlongY posMax={24} hMax={60} groups={[{ color: '#8c8c8c', width: 1.3, merges: rowTreeD }]} />
      <Heat left={456} top={647} width={140} height={241} rows={heatD} colorOf={greenRed} labels={circD.map((c) => `hsa_circ_${c}`)} labelWidth={55} />
      {samplesD.map((s, i) => (
        <T key={i} x={[466, 489, 515, 542, 564, 586][i]} y={896} size={6.8} color="#444">{s}</T>
      ))}
      <HBar left={458} right={522} y={907} />
      <HBar left={533} right={599} y={907} />
      <T x={489} y={916} size={8}>LNCaP</T>
      <T x={489} y={925} size={8}>Clone 9</T>
      <T x={564} y={916} size={8}>LNCaP</T>
      <T x={564} y={925} size={8}>Control</T>

      {/* E */}
      <T x={122} y={1021} size={24}>E</T>
      <Venn />
      <T x={301} y={1052} size={13}>{vennCounts[0]}</T>
      <T x={381} y={1052} size={13}>{vennCounts[1]}</T>
      <T x={441} y={1052} size={13}>{vennCounts[2]}</T>
      <T x={371} y={968} size={8} start color="#222">LNCaP C9_vs_LNCaP Control</T>
      <T x={107} y={1135} size={8} start color="#222">LNCaP C1_vs_LNCaP Control</T>
    </div>
  );
}
